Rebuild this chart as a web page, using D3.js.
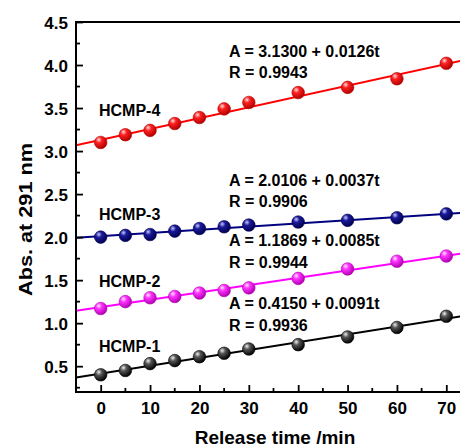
<!DOCTYPE html>
<html><head><meta charset="utf-8">
<script src="https://cdn.jsdelivr.net/npm/d3@7"></script>
<style>body{margin:0;background:#fff}svg{display:block}text{font-family:"Liberation Sans",Arial,sans-serif;font-weight:bold;fill:#000}</style>
</head><body><svg id="c" width="460" height="447"></svg>
<script>
const times = [0,5,10,15,20,25,30,40,50,60,70];
const hcmp1 = [0.40,0.45,0.53,0.565,0.61,0.65,0.70,0.75,0.84,0.95,1.08];
const hcmp2 = [1.17,1.25,1.295,1.31,1.35,1.38,1.41,1.52,1.63,1.72,1.78];
const hcmp3 = [2.00,2.02,2.03,2.07,2.10,2.12,2.14,2.175,2.195,2.225,2.27];
const hcmp4 = [3.10,3.19,3.24,3.32,3.39,3.49,3.565,3.68,3.74,3.84,4.02];
const names = ["HCMP-1","HCMP-2","HCMP-3","HCMP-4"];
const intercepts = [0.4150,1.1869,2.0106,3.1300];
const slopes = [0.0091,0.0085,0.0037,0.0126];
const rValues = ["0.9936","0.9944","0.9906","0.9943"];
const eqTexts = ["A = 0.4150 + 0.0091t","A = 1.1869 + 0.0085t","A = 2.0106 + 0.0037t","A = 3.1300 + 0.0126t"];
const colors = ["#000000","#ff00ff","#000080","#ff0000"];
const xTicks = [0,10,20,30,40,50,60,70];
const xMinor = [5,15,25,35,45,55,65];
const yTicks = [0.5,1.0,1.5,2.0,2.5,3.0,3.5,4.0,4.5];
const yMinor = [0.25,0.75,1.25,1.75,2.25,2.75,3.25,3.75,4.25];
const xTitle = "Release time /min";
const yTitle = "Abs. at 291 nm";

const series = [hcmp1,hcmp2,hcmp3,hcmp4];
const svg = d3.select("#c");
const L=76,T=22,R=471,B=392;
const x = d3.scaleLinear().domain([-5,75]).range([L,R]);
const y = d3.scaleLinear().domain([0.2,4.5]).range([B,T]);

const defs = svg.append("defs");
defs.append("clipPath").attr("id","clip").append("rect").attr("x",L).attr("y",T).attr("width",R-L).attr("height",B-T);
const grads = [
  ["#f0f0f0","#555","#000"],
  ["#ffe6ff","#ff33ff","#b000b0"],
  ["#c8c8ff","#1a1a9a","#000050"],
  ["#ffe0e0","#ff2020","#b00000"]
];
grads.forEach((g,i)=>{
  const rg = defs.append("radialGradient").attr("id","g"+i).attr("cx","35%").attr("cy","32%").attr("r","70%").attr("fx","35%").attr("fy","28%");
  rg.append("stop").attr("offset","0%").attr("stop-color",g[0]);
  rg.append("stop").attr("offset","35%").attr("stop-color",g[1]);
  rg.append("stop").attr("offset","100%").attr("stop-color",g[2]);
});

// fit lines
const plot = svg.append("g").attr("clip-path","url(#clip)");
series.forEach((s,i)=>{
  const xs = x.domain();
  plot.append("line")
    .attr("x1",x(xs[0])).attr("y1",y(intercepts[i]+slopes[i]*xs[0]))
    .attr("x2",x(xs[1])).attr("y2",y(intercepts[i]+slopes[i]*xs[1]))
    .attr("stroke",colors[i]).attr("stroke-width",2);
});
series.forEach((s,i)=>{
  plot.selectAll(null).data(s).enter().append("circle")
    .attr("cx",(d,j)=>x(times[j])).attr("cy",d=>y(d)).attr("r",6.3)
    .attr("fill","url(#g"+i+")").attr("stroke",grads[i][2]).attr("stroke-width",0.6);
});

// axes
const ax = svg.append("g");
const bottom = d3.axisBottom(x).tickValues(xTicks).tickSize(-7).tickPadding(30).tickFormat(d3.format("d"));
const gB = ax.append("g").attr("transform",`translate(0,${B})`).call(bottom);
gB.select(".domain").remove();
gB.selectAll("line").attr("stroke","#000").attr("stroke-width",1.8);
gB.selectAll("text").attr("font-size",17).attr("dy",null).attr("y",22);
ax.selectAll(null).data(xMinor).enter().append("line")
  .attr("x1",d=>x(d)).attr("x2",d=>x(d)).attr("y1",B).attr("y2",B-4).attr("stroke","#000").attr("stroke-width",1.8);
const left = d3.axisLeft(y).tickValues(yTicks).tickSize(-7).tickPadding(15).tickFormat(d3.format(".1f"));
const gL = ax.append("g").attr("transform",`translate(${L},0)`).call(left);
gL.select(".domain").remove();
gL.selectAll("line").attr("stroke","#000").attr("stroke-width",1.8);
gL.selectAll("text").attr("font-size",17).attr("x",-8).attr("dy","0.36em");
ax.selectAll(null).data(yMinor).enter().append("line")
  .attr("x1",L).attr("x2",L+4).attr("y1",d=>y(d)).attr("y2",d=>y(d)).attr("stroke","#000").attr("stroke-width",1.8);
// frame lines
ax.append("line").attr("x1",L).attr("x2",L).attr("y1",T-1).attr("y2",B+1).attr("stroke","#000").attr("stroke-width",2);
ax.append("line").attr("x1",L-1).attr("x2",R).attr("y1",B).attr("y2",B).attr("stroke","#000").attr("stroke-width",2);
ax.append("line").attr("x1",L-1).attr("x2",R).attr("y1",T).attr("y2",T).attr("stroke","#000").attr("stroke-width",2);
ax.append("line").attr("x1",R).attr("x2",R).attr("y1",T).attr("y2",B).attr("stroke","#000").attr("stroke-width",2);

// titles
svg.append("text").attr("x",275).attr("y",443.5).attr("text-anchor","middle").attr("font-size",19).text(xTitle);
svg.append("text").attr("transform","translate(32,219.5) rotate(-90)").attr("text-anchor","middle").attr("font-size",19)
  .attr("textLength",153).attr("lengthAdjust","spacingAndGlyphs").text(yTitle);

// labels & annotations
const labelY = [351.7,286.7,220,115.7];
const eqY = [309.3,246,185.7,56.7];
names.forEach((n,i)=>{
  svg.append("text").attr("x",99).attr("y",labelY[i]).attr("font-size",16).text(n);
  svg.append("text").attr("x",229).attr("y",eqY[i]).attr("font-size",16).text(eqTexts[i]);
  svg.append("text").attr("x",229).attr("y",eqY[i]+21.6).attr("font-size",16).text("R = "+rValues[i]);
});
</script></body></html>
